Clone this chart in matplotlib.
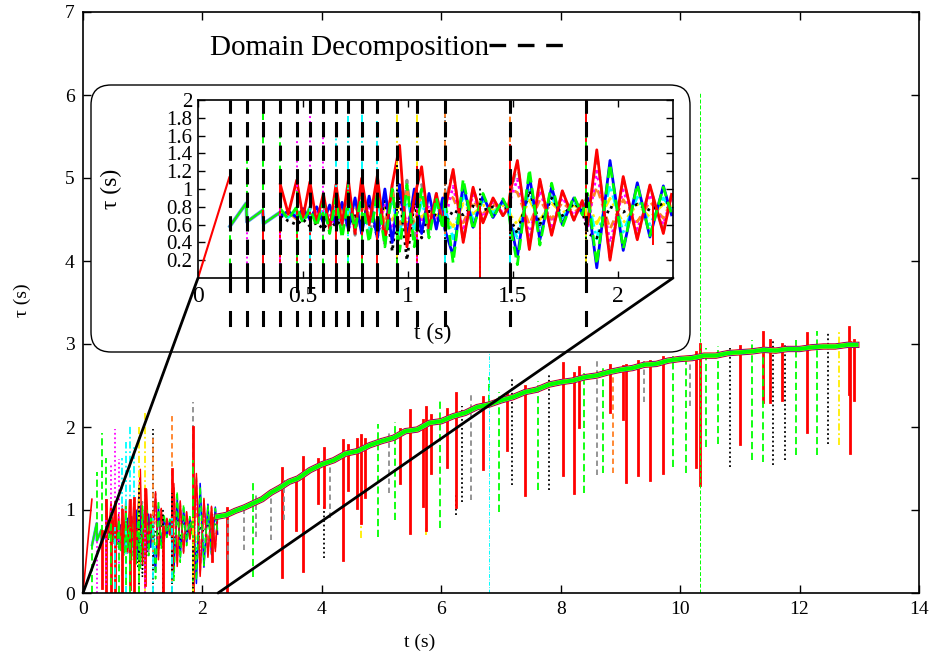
import matplotlib
matplotlib.use("Agg")
import matplotlib.pyplot as plt
from matplotlib.lines import Line2D
from matplotlib.patches import FancyBboxPatch, ConnectionPatch
from matplotlib.ticker import FixedLocator, FixedFormatter

plt.rcParams['font.family'] = ['Liberation Serif', 'DejaVu Serif']

# ---------------- data ----------------
# initial ramp before the first decomposition
ramp_t = [0.0, 0.149]
ramp_tau = [0.0, 1.13]

# saw-tooth phase (all domains nearly identical)
saw_t = [0.152, 0.2295, 0.2325, 0.308, 0.312, 0.392]
saw_tau = [0.58, 0.84, 0.63, 0.76, 0.61, 0.74]

# common time grid of the per-domain traces (t <= 2.255 s)
t_grid = [0.392, 0.43, 0.47, 0.50, 0.533, 0.565, 0.597, 0.627, 0.657, 0.686,
          0.716, 0.748, 0.779, 0.815, 0.854, 0.89, 0.925, 0.96, 0.995, 1.03,
          1.065, 1.10, 1.135, 1.165,
          1.175, 1.215, 1.263, 1.31, 1.357, 1.405, 1.452, 1.478,
          1.49, 1.521, 1.578, 1.628, 1.684, 1.735, 1.79, 1.83,
          1.855, 1.899, 1.962, 2.025, 2.092, 2.152, 2.216, 2.255]

tau_red = [1.05, 0.72, 1.10, 0.68, 1.08, 0.62, 0.95, 0.55, 1.05, 0.60,
           1.10, 0.50, 1.12, 0.60, 1.15, 0.42, 1.05, 1.49, 0.35, 0.90,
           1.25, 0.55, 0.95, 0.60,
           0.75, 1.22, 0.40, 1.02, 0.62, 0.90, 0.70, 0.79,
           1.00, 1.32, 0.32, 1.11, 0.48, 0.98, 0.65, 0.87,
           0.60, 1.44, 0.20, 1.14, 0.43, 1.045, 0.50, 0.94]
tau_green = [0.78, 0.66, 0.80, 0.62, 0.78, 0.58, 0.85, 0.50, 0.90, 0.45,
             0.88, 0.55, 0.92, 0.40, 0.95, 0.35, 1.00, 0.30, 1.05, 0.35,
             1.00, 0.45, 0.90, 0.55,
             0.90, 0.17, 1.11, 0.54, 0.95, 0.67, 0.89, 0.77,
             0.55, 0.15, 1.22, 0.37, 1.065, 0.57, 0.92, 0.71,
             0.95, 0.155, 1.28, 0.33, 1.05, 0.475, 1.02, 0.72]
tau_blue = [0.70, 0.75, 0.68, 0.78, 0.66, 0.80, 0.62, 0.82, 0.60, 0.85,
            0.55, 0.90, 0.50, 0.92, 0.45, 1.00, 0.40, 1.05, 0.45, 1.00,
            0.50, 0.95, 0.55, 0.90,
            0.55, 0.25, 1.05, 0.57, 0.92, 0.68, 0.875, 0.76,
            0.60, 0.24, 1.15, 0.43, 1.02, 0.60, 0.90, 0.72,
            0.90, 0.115, 1.32, 0.31, 1.07, 0.46, 1.035, 0.71]
tau_gray = [0.74, 0.70, 0.76, 0.64, 0.80, 0.60, 0.82, 0.56, 0.86, 0.52,
            0.90, 0.48, 0.95, 0.45, 1.00, 0.38, 1.05, 0.32, 1.10, 0.40,
            1.05, 0.50, 0.95, 0.60,
            0.85, 1.20, 0.42, 1.01, 0.63, 0.89, 0.70, 0.80,
            0.95, 1.29, 0.35, 1.09, 0.50, 0.97, 0.65, 0.86,
            0.60, 1.40, 0.23, 1.12, 0.44, 1.03, 0.52, 0.94]
tau_magenta = [0.68, 0.72, 0.70, 0.75, 0.65, 0.76, 0.60, 0.72, 0.58, 0.70,
               0.55, 0.68, 0.60, 0.80, 0.50, 0.85, 0.55, 0.90, 0.60, 0.85,
               0.62, 0.82, 0.65, 0.80,
               0.65, 1.03, 0.53, 0.94, 0.68, 0.86, 0.73, 0.78,
               0.90, 1.11, 0.48, 0.98, 0.585, 0.905, 0.70, 0.84,
               0.55, 1.20, 0.40, 0.99, 0.545, 0.94, 0.60, 0.90]
tau_cyan = [0.72, 0.68, 0.74, 0.66, 0.76, 0.65, 0.78, 0.62, 0.80, 0.60,
            0.82, 0.62, 0.78, 0.55, 0.85, 0.55, 0.88, 0.50, 0.90, 0.55,
            0.85, 0.60, 0.82, 0.65,
            0.80, 0.44, 0.93, 0.66, 0.87, 0.73, 0.84, 0.77,
            0.60, 0.45, 0.99, 0.56, 0.915, 0.675, 0.85, 0.75,
            0.90, 0.44, 1.04, 0.515, 0.91, 0.60, 0.90, 0.77]
tau_orange = [0.70, 0.74, 0.66, 0.72, 0.70, 0.68, 0.74, 0.60, 0.75, 0.62,
              0.80, 0.60, 0.85, 0.65, 0.95, 0.60, 0.98, 0.55, 1.00, 0.60,
              0.95, 0.65, 0.90, 0.70,
              0.95, 0.90, 0.62, 0.87, 0.72, 0.83, 0.755, 0.79,
              1.00, 0.96, 0.60, 0.88, 0.66, 0.85, 0.73, 0.82,
              0.70, 1.025, 0.55, 0.88, 0.63, 0.86, 0.67, 0.87]
tau_yellow = [0.75, 0.70, 0.72, 0.76, 0.70, 0.74, 0.68, 0.78, 0.66, 0.76,
              0.70, 0.80, 0.65, 0.75, 0.60, 0.80, 0.65, 0.82, 0.62, 0.80,
              0.68, 0.78, 0.70, 0.76,
              0.70, 0.575, 0.835, 0.72, 0.82, 0.755, 0.815, 0.78,
              0.70, 0.60, 0.875, 0.655, 0.84, 0.73, 0.815, 0.77,
              0.85, 0.61, 0.895, 0.62, 0.83, 0.68, 0.83, 0.80]
tau_black = [0.70, 0.64, 0.60, 0.66, 0.58, 0.62, 0.55, 0.65, 0.58, 0.68,
             0.60, 0.70, 0.62, 0.85, 0.45, 0.90, 0.30, 0.95, 0.20, 0.85,
             0.45, 0.75, 0.70, 0.60,
             0.60, 0.76, 0.71, 0.81, 0.76, 0.80, 0.78, 0.79,
             0.65, 0.50, 0.98, 0.60, 0.90, 0.70, 0.84, 0.76,
             0.50, 0.45, 0.80, 0.74, 0.83, 0.76, 0.84, 0.86]

# common trend of all domains after the transient
band_t = [2.25, 2.4, 2.55, 2.7, 2.85, 3.0, 3.15, 3.3, 3.45, 3.6, 3.8, 4.0,
          4.2, 4.4, 4.6, 4.8, 5.0, 5.2, 5.4, 5.6, 5.8, 6.0, 6.2, 6.4, 6.6,
          6.8, 7.0, 7.2, 7.4, 7.6, 7.8, 8.0, 8.2, 8.4, 8.6, 8.8, 9.0, 9.2,
          9.4, 9.6, 9.8, 10.0, 10.2, 10.4, 10.6, 10.8, 11.0, 11.2, 11.4,
          11.6, 11.8, 12.0, 12.2, 12.4, 12.6, 12.8, 12.95]
band_tau = [0.92, 0.94, 0.99, 1.03, 1.08, 1.13, 1.21, 1.27, 1.34, 1.38,
            1.48, 1.55, 1.60, 1.68, 1.71, 1.78, 1.83, 1.87, 1.95, 1.97,
            2.05, 2.07, 2.13, 2.17, 2.24, 2.27, 2.32, 2.36, 2.42, 2.45,
            2.51, 2.54, 2.56, 2.60, 2.62, 2.66, 2.69, 2.71, 2.75, 2.76,
            2.80, 2.82, 2.83, 2.86, 2.86, 2.89, 2.90, 2.91, 2.93, 2.92,
            2.94, 2.94, 2.96, 2.97, 2.97, 2.99, 2.99]

# times of the domain decompositions
dd_times = [0.152, 0.232, 0.311, 0.390, 0.470, 0.533, 0.597, 0.657, 0.716,
            0.779, 0.854, 0.946, 1.041, 1.175, 1.486, 1.848]

# transient spikes (time, lower tau, upper tau, domain colour)
spike_t = [0.152, 0.232, 0.232, 0.311, 0.311, 0.39, 0.39, 0.39, 0.47, 0.47,
           0.47, 0.533, 0.533, 0.533, 0.597, 0.597, 0.657, 0.657, 0.716,
           0.716, 0.779, 0.779, 0.779, 0.854, 0.854, 0.946, 0.946, 0.946,
           1.041, 1.041, 1.041, 1.175, 1.175, 1.175, 1.343, 1.345, 1.486,
           1.486, 1.486, 1.486, 1.848, 1.848, 1.848, 1.848, 1.848, 2.167,
           2.41, 2.43, 2.70, 2.85, 2.90, 3.15, 3.33, 3.37, 3.57, 3.69, 3.94,
           4.04, 4.04, 4.13, 4.36, 4.44, 4.59, 4.66, 4.66, 4.73, 4.94, 5.12,
           5.22, 5.31, 5.48, 5.70, 5.75, 5.75, 5.83, 5.98, 6.09, 6.24, 6.24,
           6.34, 6.49, 6.70, 6.80, 6.96, 7.10, 7.18, 7.41, 7.62, 7.80, 8.04,
           8.22, 8.30, 8.39, 8.60, 8.70, 8.83, 8.88, 9.04, 9.10, 9.29, 9.39,
           9.49, 9.71, 9.88, 10.09, 10.16, 10.27, 10.33, 10.44, 10.64, 10.83,
           11.01, 11.20, 11.38, 11.38, 11.50, 11.56, 11.70, 11.76, 11.94,
           12.12, 12.29, 12.47, 12.66, 12.82, 12.85, 12.91]
spike_lo = [0.0, 0.63, 0.0, 0.60, 0.06, 0.65, 0.0, 0.10, 0.70, 0.0,
            0.10, 0.60, 0.0, 0.05, 0.30, 0.0, 0.20, 0.0, 0.0,
            0.10, 0.0, 0.05, 0.0, 0.40, 0.0, 0.0, 0.05, 0.0,
            0.0, 0.10, 0.0, 0.0, 0.50, 0.0, 0.0, 0.0, 0.0,
            0.30, 0.0, 0.0, 0.0, 0.0, 0.0, 0.0, 0.0, 0.38,
            0.0, 0.40, 0.52, 0.19, 0.67, 0.64, 0.19, 0.88, 0.76, 0.26, 1.09,
            0.42, 1.04, 0.90, 0.40, 1.24, 1.03, 0.66, 0.84, 1.16, 0.68, 1.20,
            0.88, 1.32, 0.72, 1.05, 0.70, 0.76, 1.45, 0.78, 1.52, 0.94, 1.04,
            1.10, 1.12, 1.50, 2.30, 0.98, 1.72, 1.30, 1.18, 1.24, 1.24, 1.42,
            1.20, 2.00, 1.20, 1.42, 1.44, 2.18, 1.45, 2.10, 1.34, 1.42, 2.30,
            1.36, 1.44, 1.52, 1.44, 2.25, 1.52, 1.30, 1.76, 1.80, 1.52,
            1.80, 1.60, 2.30, 1.58, 2.30, 1.54, 2.32, 1.60, 1.66,
            1.94, 1.66, 1.80, 1.78, 2.40, 1.69, 2.33]
spike_hi = [0.58, 1.46, 0.63, 1.93, 0.75, 1.63, 1.12, 0.90, 1.55, 0.90,
            1.00, 1.98, 1.10, 0.80, 1.62, 0.90, 1.63, 1.00, 1.82,
            1.05, 2.03, 1.12, 0.80, 1.76, 1.15, 2.00, 1.30, 0.90,
            2.17, 1.25, 0.80, 1.98, 1.90, 0.90, 1.03, 0.80, 2.14,
            1.50, 1.20, 0.90, 2.30, 2.00, 1.60, 0.90, 0.60, 0.90,
            1.03, 0.88, 1.04, 1.33, 1.20, 1.28, 1.51, 1.36, 1.40, 1.64, 1.62,
            1.05, 1.75, 1.62, 1.84, 1.78, 1.85, 0.84, 1.90, 1.86, 2.04, 1.95,
            2.06, 1.98, 2.20, 2.08, 0.80, 2.24, 2.15, 2.32, 2.22, 1.20, 2.41,
            2.25, 2.42, 2.36, 2.60, 2.42, 2.40, 2.59, 2.50, 2.55, 2.65, 2.77,
            2.65, 2.72, 2.65, 2.81, 2.72, 2.75, 2.70, 2.74, 2.75, 2.80, 2.79,
            2.80, 2.84, 2.85, 2.88, 2.88, 2.90, 3.00, 2.95, 2.97, 2.95,
            2.98, 3.05, 3.15, 2.95, 3.05, 3.05, 3.00, 3.00, 3.05,
            3.13, 3.16, 3.15, 3.16, 3.20, 3.02, 3.05]
spike_col = ['green', 'green', 'magenta', 'green', 'red', 'green', 'red',
             'magenta', 'magenta', 'red', 'green', 'magenta', 'red', 'cyan',
             'magenta', 'green', 'cyan', 'red', 'cyan', 'green', 'cyan', 'red',
             'green', 'cyan', 'red', 'yellow', 'black', 'green', 'yellow',
             'red', 'magenta', 'black', 'orange', 'cyan', 'black', 'red',
             'orange', 'red', 'black', 'cyan', 'gray', 'red', 'green',
             'yellow', 'black', 'red',
             'red', 'gray', 'gray', 'green', 'gray', 'gray', 'red', 'gray',
             'red', 'red', 'red', 'black', 'red', 'gray', 'red', 'red', 'red',
             'yellow', 'red', 'red', 'green', 'gray', 'green', 'red', 'red',
             'red', 'yellow', 'red', 'red', 'green', 'red', 'black', 'red',
             'black', 'gray', 'red', 'green', 'green', 'red', 'black', 'red',
             'green', 'black', 'red', 'red', 'red', 'green', 'gray', 'green',
             'red', 'orange', 'red', 'red', 'red', 'gray', 'red', 'red',
             'green', 'green', 'gray', 'red', 'red', 'green', 'green', 'black',
             'red', 'green', 'red', 'green', 'red', 'black', 'red', 'black',
             'green', 'red', 'green', 'black', 'yellow', 'red', 'red', 'red']

# two isolated full-height excursions (thin traces)
thin_t = [6.80, 10.33]
thin_hi = [2.89, 6.04]
thin_col = ['cyan', 'green']

# ---------------- styles ----------------
STYLE = {
    'red': dict(color='#ff0000', ls='-'),
    'green': dict(color='#00ff00', ls=(0, (4, 2))),
    'blue': dict(color='#0000ff', ls='-'),
    'magenta': dict(color='#ff00ff', ls=(0, (1, 1.5))),
    'cyan': dict(color='#00ffff', ls=(0, (4, 1.5, 1, 1.5))),
    'orange': dict(color='#ff7f24', ls=(0, (3, 2))),
    'black': dict(color='#000000', ls=(0, (1, 1.5))),
    'yellow': dict(color='#ffee00', ls=(0, (4, 1.5, 1, 1.5))),
    'gray': dict(color='#8c8c8c', ls=(0, (3, 2))),
}
SERIES = [('gray', tau_gray), ('yellow', tau_yellow), ('orange', tau_orange),
          ('cyan', tau_cyan), ('magenta', tau_magenta), ('black', tau_black),
          ('blue', tau_blue), ('red', tau_red), ('green', tau_green)]


def sty(name, lw, **kw):
    d = dict(STYLE[name])
    d['lw'] = lw
    d.update(kw)
    return d


W, H = 939, 666
fig = plt.figure(figsize=(W / 100, H / 100), dpi=100)

# ---------------- main axes ----------------
ax = fig.add_axes([83 / W, 1 - 593 / H, (919 - 83) / W, (593 - 12) / H])
ax.set_xlim(0, 14)
ax.set_ylim(0, 7)
ax.set_xticks(range(0, 15, 2))
ax.set_yticks(range(0, 8))
ax.tick_params(direction='in', length=6, width=1, top=True, right=True,
               labelsize=14, pad=6)
for s in ax.spines.values():
    s.set_linewidth(1.2)
ax.set_xlabel('t (s)', fontsize=14)
ax.xaxis.set_label_coords(0.403, -0.07)
ax.set_ylabel('τ (s)', fontsize=14)
ax.yaxis.set_label_coords(-0.062, 0.504)

ax.plot(ramp_t, ramp_tau, **sty('red', 1.2))
for name, lw in [('cyan', 2.0), ('magenta', 1.6), ('green', 1.3)]:
    ax.plot(saw_t, saw_tau, **sty(name, lw, ls='-'))
for name, vals in SERIES:
    ax.plot(t_grid, vals, **sty(name, 1.1))
for t, lo, hi, c in zip(spike_t, spike_lo, spike_hi, spike_col):
    ax.plot([t, t], [lo, hi], **sty(c, 2.0 if c == 'red' else 1.3))
for t, hi, c in zip(thin_t, thin_hi, thin_col):
    ax.plot([t, t], [0, hi], **sty(c, 0.7))
for name, lw in [('red', 4.6), ('blue', 3.8), ('yellow', 3.2), ('green', 2.8)]:
    ax.plot(band_t, band_tau, **sty(name, lw, ls='-'))

dd_handle = Line2D([], [], color='black', lw=2.4, ls=(0, (5, 3.5)))
ax.legend([dd_handle], ['Domain Decomposition'], loc='center right',
          bbox_to_anchor=(565 / W, 1 - 48 / H), bbox_transform=fig.transFigure,
          frameon=False, markerfirst=False, handlelength=2.6,
          handletextpad=0.0, borderpad=0, borderaxespad=0, fontsize=21)

# ---------------- inset frame ----------------
box = FancyBboxPatch((0.91, (H - 352) / 100), 5.99, 2.67,
                     boxstyle='round,pad=0,rounding_size=0.2',
                     transform=fig.dpi_scale_trans, facecolor='white',
                     edgecolor='black', lw=1.0, zorder=1)
fig.add_artist(box)

# ---------------- inset axes ----------------
t_max_in = 2.262
ax_in = fig.add_axes([198 / W, 1 - 278 / H, (673 - 198) / W, 178 / H], zorder=2)
ax_in.set_xlim(0, t_max_in)
ax_in.set_ylim(0, 2)
ax_in.xaxis.set_major_locator(FixedLocator([0, 0.5, 1, 1.5, 2]))
ax_in.xaxis.set_major_formatter(FixedFormatter(['0', '0.5', '1', '1.5', '2']))
yt = [0.2, 0.4, 0.6, 0.8, 1.0, 1.2, 1.4, 1.6, 1.8, 2.0]
ax_in.yaxis.set_major_locator(FixedLocator(yt))
ax_in.yaxis.set_major_formatter(FixedFormatter(
    ['0.2', '0.4', '0.6', '0.8', '1', '1.2', '1.4', '1.6', '1.8', '2']))
ax_in.tick_params(direction='in', length=5, width=1, top=True, right=True)
ax_in.tick_params(axis='x', pad=6, labelsize=17)
ax_in.tick_params(axis='y', pad=4, labelsize=15)
for s in ax_in.spines.values():
    s.set_linewidth(1.2)
ax_in.set_xlabel('t (s)', fontsize=17)
ax_in.xaxis.set_label_coords(0.494, -0.25)
ax_in.set_ylabel('τ (s)', fontsize=17)
ax_in.yaxis.set_label_coords(-0.16, 0.5)

ax_in.plot(ramp_t, ramp_tau, **sty('red', 1.5))
for name, lw in [('cyan', 2.6), ('magenta', 2.1), ('green', 1.6)]:
    ax_in.plot(saw_t, saw_tau, **sty(name, lw, ls='-'))
for name, vals in SERIES:
    ax_in.plot(t_grid, vals, **sty(name, 2.0))
for t, lo, hi, c in zip(spike_t, spike_lo, spike_hi, spike_col):
    if t <= t_max_in:
        ax_in.plot([t, t], [lo, hi], **sty(c, 1.4))

# decomposition markers: dashed inside the frame, two short strokes below it
for x in dd_times:
    ax_in.plot([x, x], [0.0, 2.0], color='black', lw=2.2,
               ls=(0, (5, 2.7)), zorder=5)
    ax_in.plot([x, x], [0.0, -0.15], color='black', lw=2.2,
               clip_on=False, zorder=5)
    ax_in.plot([x, x], [-0.38, -0.53], color='black', lw=2.2,
               clip_on=False, zorder=5)

# zoom connectors
for xa in (0.0, t_max_in):
    con = ConnectionPatch(xyA=(xa, 0), coordsA=ax_in.transData,
                          xyB=(xa, 0), coordsB=ax.transData,
                          color='black', lw=2.0, zorder=4)
    fig.add_artist(con)

fig.savefig('out.png', dpi=100)
